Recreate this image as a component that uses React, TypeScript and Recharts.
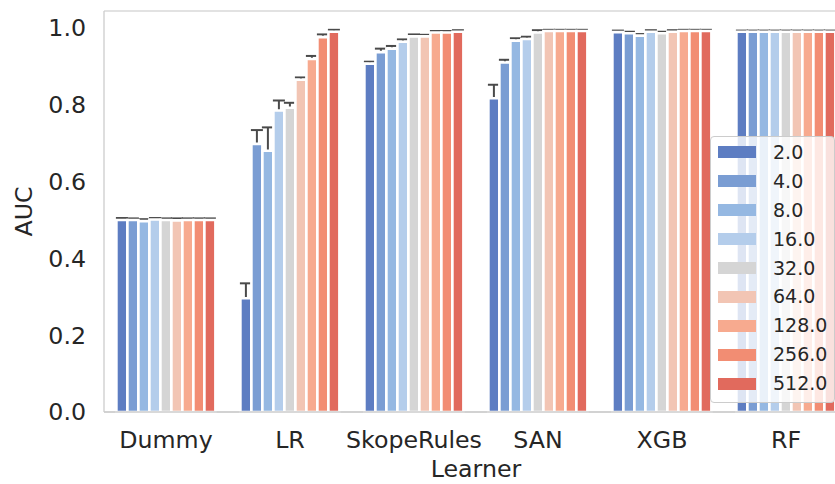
import React from "react"
import { BarChart, Bar, XAxis, YAxis, CartesianGrid, ErrorBar } from "recharts"

const learners = ["Dummy", "LR", "SkopeRules", "SAN", "XGB", "RF"]
const sizeLabels = ["2.0", "4.0", "8.0", "16.0", "32.0", "64.0", "128.0", "256.0", "512.0"]
const sizeColors = ["#5d7dc2", "#7a9dd3", "#95b8e2", "#b4cdeb", "#d5d5d5", "#f2c5b4", "#f7aa8f", "#f28d73", "#e16a5d"]

// mean AUC per learner, one value per size
const dummyAuc = [0.5, 0.5, 0.497, 0.501, 0.5, 0.499, 0.5, 0.5, 0.5]
const lrAuc = [0.296, 0.698, 0.68, 0.785, 0.792, 0.865, 0.919, 0.976, 0.99]
const skopeAuc = [0.907, 0.937, 0.946, 0.964, 0.978, 0.978, 0.988, 0.988, 0.99]
const sanAuc = [0.817, 0.91, 0.967, 0.971, 0.988, 0.992, 0.992, 0.992, 0.992]
const xgbAuc = [0.989, 0.986, 0.98, 0.99, 0.986, 0.99, 0.992, 0.992, 0.992]
const rfAuc = [0.99, 0.99, 0.99, 0.99, 0.99, 0.99, 0.99, 0.99, 0.99]

// half-width of the error bars
const dummyErr = [0.005, 0.004, 0.005, 0.004, 0.004, 0.005, 0.004, 0.004, 0.004]
const lrErr = [0.039, 0.036, 0.061, 0.026, 0.013, 0.006, 0.008, 0.007, 0.005]
const skopeErr = [0.005, 0.009, 0.007, 0.006, 0.005, 0.004, 0.004, 0.004, 0.004]
const sanErr = [0.035, 0.007, 0.006, 0.006, 0.006, 0.003, 0.003, 0.003, 0.003]
const xgbErr = [0.004, 0.004, 0.004, 0.004, 0.004, 0.004, 0.003, 0.003, 0.003]
const rfErr = [0.003, 0.003, 0.003, 0.003, 0.003, 0.003, 0.003, 0.003, 0.003]

const yTicks = [0, 0.2, 0.4, 0.6, 0.8, 1.0]

const aucRows = [dummyAuc, lrAuc, skopeAuc, sanAuc, xgbAuc, rfAuc]
const errRows = [dummyErr, lrErr, skopeErr, sanErr, xgbErr, rfErr]

const data = learners.map((learner, i) => {
  const row: Record<string, string | number> = { learner }
  sizeLabels.forEach((_, j) => {
    row["v" + j] = aucRows[i][j]
    row["e" + j] = errRows[i][j]
  })
  return row
})

const textColor = "#262626"
const spine = { stroke: "#cccccc", strokeWidth: 1.3 }
const fontSize = 23.7

// legend drawn as plain html over the chart, like matplotlib's framed legend
const LegendBox = () => (
  <div
    style={{
      position: "absolute",
      left: 710,
      top: 136,
      width: 125,
      height: 267,
      boxSizing: "border-box",
      border: "1.3px solid #cccccc",
      borderRadius: 4,
      background: "rgba(255,255,255,0.8)",
      paddingTop: 1,
      zIndex: 2,
    }}
  >
    {sizeLabels.map((s, j) => (
      <div key={s} style={{ display: "flex", alignItems: "center", height: 28.9 }}>
        <span style={{ display: "inline-block", width: 38, height: 12, marginLeft: 7, background: sizeColors[j] }} />
        <span style={{ marginLeft: 17, fontSize: 19, color: textColor, lineHeight: "19px" }}>{s}</span>
      </div>
    ))}
  </div>
)

// two charts with identical layout: the back one holds grid + error bars,
// the front one the bars and axes, so the bars hide the lower half of each error bar
const Layer = ({ front }: { front: boolean }) => (
  <div style={{ position: "absolute", left: 0, top: 0 }}>
    <BarChart
      width={870}
      height={484}
      data={data}
      margin={{ top: 11, right: 22, left: 0, bottom: 0 }}
      barCategoryGap="10%"
      barGap={0}
    >
      {!front && <CartesianGrid vertical={false} stroke="#d9d9d9" strokeWidth={1.3} />}
      {sizeLabels.map((s, j) =>
        front ? (
          <Bar
            key={"bar" + s}
            dataKey={"v" + j}
            name={s}
            fill={sizeColors[j]}
            stroke="#ffffff"
            strokeWidth={2.6}
            isAnimationActive={false}
          />
        ) : (
          <Bar key={"err" + s} dataKey={"v" + j} fill="transparent" isAnimationActive={false}>
            <ErrorBar dataKey={"e" + j} width={6} stroke="#4a4a4a" strokeWidth={2} />
          </Bar>
        )
      )}
      <XAxis
        dataKey="learner"
        height={72}
        interval={0}
        tickLine={false}
        tickSize={0}
        tickMargin={19}
        axisLine={front ? spine : false}
        tick={front ? { fill: textColor, fontSize } : false}
        label={front ? { value: "Learner", position: "insideBottom", offset: 7, fill: textColor, fontSize } : undefined}
      />
      <XAxis
        xAxisId="top"
        dataKey="learner"
        orientation="top"
        height={0}
        tick={false}
        tickLine={false}
        axisLine={front ? spine : false}
      />
      <YAxis
        domain={[0, 1.044]}
        ticks={yTicks}
        tickFormatter={(v: number) => v.toFixed(1)}
        width={104}
        tickLine={false}
        tickSize={0}
        tickMargin={18}
        axisLine={front ? spine : false}
        tick={front ? { fill: textColor, fontSize } : false}
        label={front ? { value: "AUC", angle: -90, position: "center", dx: -28, fill: textColor, fontSize } : undefined}
      />
    </BarChart>
  </div>
)

export default function App() {
  return (
    <div
      style={{
        position: "fixed",
        left: 0,
        top: 0,
        width: 835,
        height: 484,
        overflow: "hidden",
        background: "#fff",
        fontFamily: "DejaVu Sans",
      }}
    >
      <Layer front={false} />
      <Layer front={true} />
      <LegendBox />
    </div>
  )
}
